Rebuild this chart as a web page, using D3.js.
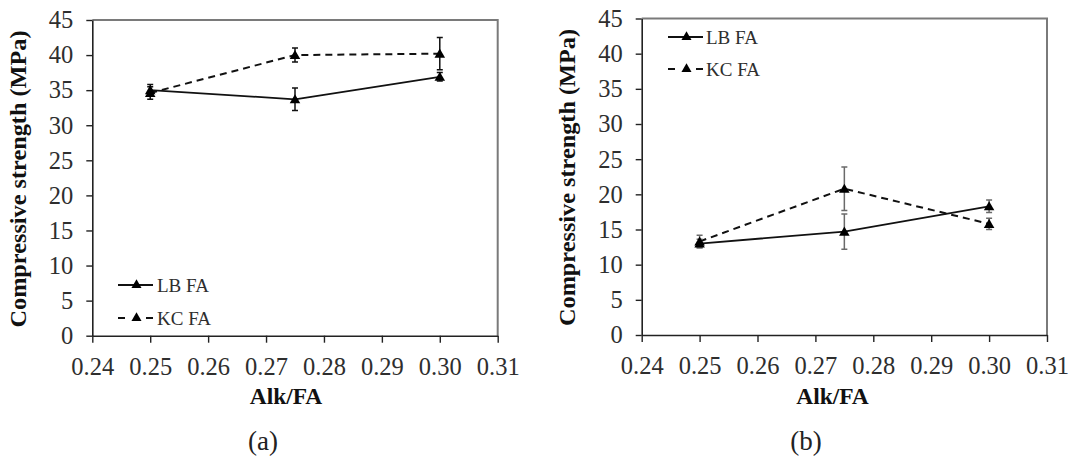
<!DOCTYPE html>
<html>
<head>
<meta charset="utf-8">
<script src="https://cdn.jsdelivr.net/npm/d3@7"></script>
<style>
  body { margin: 0; background: #fff; }
  svg { display: block; }
</style>
</head>
<body>
<svg id="chart" width="1072" height="462"></svg>
<script>
// ---- data ----
const alkFaRatio = [0.25, 0.275, 0.30];
const xTickValues = [0.24, 0.25, 0.26, 0.27, 0.28, 0.29, 0.30, 0.31];
const yTickValues = [0, 5, 10, 15, 20, 25, 30, 35, 40, 45];
const seriesNames = ["LB FA", "KC FA"];

// panel (a)
const lbStrengthA = [35.0, 33.7, 36.9];
const lbErrorA    = [0.8, 1.6, 0.6];
const kcStrengthA = [34.6, 40.0, 40.2];
const kcErrorA    = [0.9, 1.0, 2.3];

// panel (b)
const lbStrengthB = [13.0, 14.7, 18.3];
const lbErrorB    = [0.6, 2.5, 0.9];
const kcStrengthB = [13.3, 20.8, 15.8];
const kcErrorB    = [0.9, 3.1, 0.8];

const panelCaptions = ["(a)", "(b)"];
const xTitle = "Alk/FA";
const yTitle = "Compressive strength (MPa)";

// ---- layout ----
const panels = [
  {
    box: { left: 92.3, right: 497.7, top: 20, bottom: 335.7 },
    lb: lbStrengthA, lbErr: lbErrorA, kc: kcStrengthA, kcErr: kcErrorA,
    errColor: "#111",
    legend: { x0: 118, x1: 153, y: 285, textX: 157, gap: 33 },
    yTitlePos: { x: 26, y: 179 },
    xTitlePos: { x: 286, y: 404 },
    caption: panelCaptions[0], captionPos: { x: 263, y: 450 }
  },
  {
    box: { left: 641.7, right: 1047, top: 18.5, bottom: 335 },
    lb: lbStrengthB, lbErr: lbErrorB, kc: kcStrengthB, kcErr: kcErrorB,
    errColor: "#6a6a6a",
    legend: { x0: 668, x1: 703, y: 37, textX: 706, gap: 32 },
    yTitlePos: { x: 574.5, y: 177.5 },
    xTitlePos: { x: 832.5, y: 403.5 },
    caption: panelCaptions[1], captionPos: { x: 806, y: 450 }
  }
];

const svg = d3.select("#chart");
const serif = "'Liberation Serif', 'Times New Roman', serif";
const triangle = d3.symbol().type(d3.symbolTriangle).size(48);
const legendTriangle = d3.symbol().type(d3.symbolTriangle).size(44);

panels.forEach(p => {
  const b = p.box;
  const x = d3.scaleLinear().domain([0.24, 0.31]).range([b.left, b.right]);
  const y = d3.scaleLinear().domain([0, 45]).range([b.bottom, b.top]);
  const g = svg.append("g");

  // plot frame (top and right edges)
  g.append("path")
    .attr("d", `M${b.left},${b.top}H${b.right}V${b.bottom}`)
    .attr("fill", "none").attr("stroke", "#7a7a7a").attr("stroke-width", 2);

  // y axis
  const ya = g.append("g")
    .attr("transform", `translate(${b.left},0)`)
    .call(d3.axisLeft(y).tickValues(yTickValues).tickSizeInner(6).tickSizeOuter(0).tickPadding(13));
  // x axis
  const xa = g.append("g")
    .attr("transform", `translate(0,${b.bottom})`)
    .call(d3.axisBottom(x).tickValues(xTickValues).tickFormat(d3.format(".2f"))
      .tickSizeInner(7).tickSizeOuter(0).tickPadding(14.5));

  [ya, xa].forEach(a => {
    a.select(".domain").attr("stroke", "#222").attr("stroke-width", 1.6);
    a.selectAll(".tick line").attr("stroke", "#222").attr("stroke-width", 1.4);
    a.selectAll(".tick text")
      .attr("font-family", serif).attr("font-size", 24.5).attr("fill", "#2e2e2e");
  });

  // series lines
  const line = d3.line().x((d, i) => x(alkFaRatio[i])).y(d => y(d));
  g.append("path").datum(p.kc).attr("d", line)
    .attr("fill", "none").attr("stroke", "#111").attr("stroke-width", 2)
    .attr("stroke-dasharray", "7,5");
  g.append("path").datum(p.lb).attr("d", line)
    .attr("fill", "none").attr("stroke", "#111").attr("stroke-width", 1.8);

  // error bars
  const drawErr = (vals, errs) => {
    vals.forEach((v, i) => {
      const cx = x(alkFaRatio[i]);
      const y0 = y(v - errs[i]), y1 = y(v + errs[i]);
      g.append("path")
        .attr("d", `M${cx},${y0}V${y1}M${cx - 3},${y0}H${cx + 3}M${cx - 3},${y1}H${cx + 3}`)
        .attr("fill", "none").attr("stroke", p.errColor).attr("stroke-width", 1.5);
    });
  };
  drawErr(p.lb, p.lbErr);
  drawErr(p.kc, p.kcErr);

  // markers
  [p.lb, p.kc].forEach(vals => {
    g.selectAll(null).data(vals).join("path")
      .attr("d", triangle)
      .attr("transform", (d, i) => `translate(${x(alkFaRatio[i])},${y(d) + 1})`)
      .attr("fill", "#000");
  });

  // legend: solid sample, then a dash on each side of the marker
  const L = p.legend;
  seriesNames.forEach((name, k) => {
    const ly = L.y + k * L.gap;
    g.append("line")
      .attr("x1", L.x0).attr("x2", L.x1).attr("y1", ly).attr("y2", ly)
      .attr("stroke", "#111").attr("stroke-width", k === 0 ? 1.8 : 2)
      .attr("stroke-dasharray", k === 0 ? null : "7,21");
    g.append("path").attr("d", legendTriangle)
      .attr("transform", `translate(${(L.x0 + L.x1) / 2 + 1},${ly})`)
      .attr("fill", "#000");
    g.append("text")
      .attr("x", L.textX).attr("y", ly + 7)
      .attr("font-family", serif).attr("font-size", 19).attr("fill", "#2e2e2e")
      .text(name);
  });

  // axis titles
  g.append("text")
    .attr("transform", `translate(${p.yTitlePos.x},${p.yTitlePos.y}) rotate(-90)`)
    .attr("text-anchor", "middle")
    .attr("font-family", serif).attr("font-weight", "bold").attr("font-size", 23)
    .attr("textLength", 297).attr("lengthAdjust", "spacingAndGlyphs")
    .attr("fill", "#111")
    .text(yTitle);
  g.append("text")
    .attr("x", p.xTitlePos.x).attr("y", p.xTitlePos.y)
    .attr("text-anchor", "middle")
    .attr("font-family", serif).attr("font-weight", "bold").attr("font-size", 23.5)
    .attr("fill", "#111")
    .text(xTitle);

  // panel caption
  g.append("text")
    .attr("x", p.captionPos.x).attr("y", p.captionPos.y)
    .attr("text-anchor", "middle")
    .attr("font-family", serif).attr("font-size", 27).attr("fill", "#222")
    .text(p.caption);
});
</script>
</body>
</html>
